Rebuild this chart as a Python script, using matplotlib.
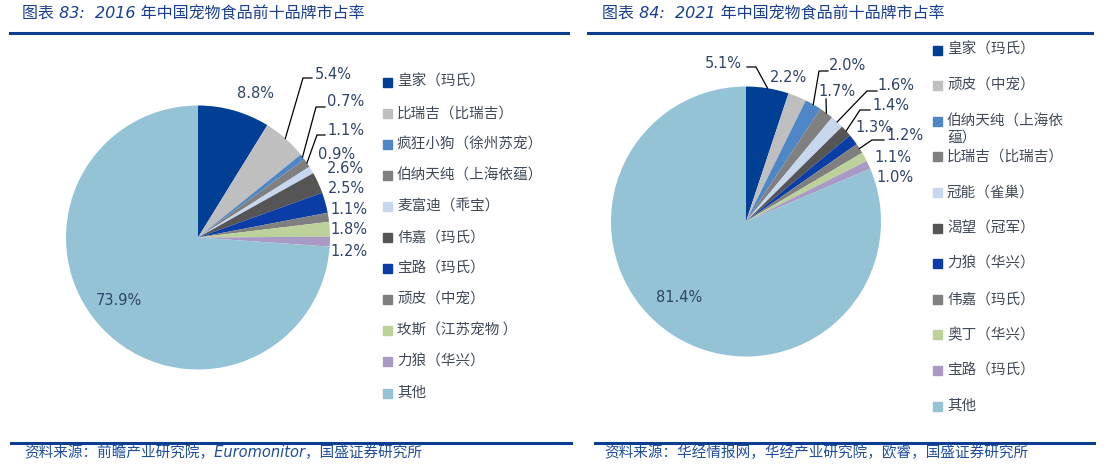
import numpy as np
from matplotlib import pyplot as plt
from matplotlib.lines import Line2D
from matplotlib.patches import Rectangle

plt.rcParams['font.family'] = ['Noto Sans CJK SC', 'DejaVu Sans']

# 2016 data
brands_2016 = ['皇家（玛氏）', '比瑞吉（比瑞吉）', '疯狂小狗（徐州苏宠）', '伯纳天纯（上海依蕴）',
               '麦富迪（乖宝）', '伟嘉（玛氏）', '宝路（玛氏）', '顽皮（中宠）',
               '玫斯（江苏宠物 ）', '力狼（华兴）', '其他']
share_2016 = [8.8, 5.4, 0.7, 1.1, 0.9, 2.6, 2.5, 1.1, 1.8, 1.2, 73.9]

# 2021 data
brands_2021 = ['皇家（玛氏）', '顽皮（中宠）', '伯纳天纯（上海依\n蕴）', '比瑞吉（比瑞吉）',
               '冠能（雀巢）', '渴望（冠军）', '力狼（华兴）', '伟嘉（玛氏）',
               '奥丁（华兴）', '宝路（玛氏）', '其他']
share_2021 = [5.1, 2.2, 2.0, 1.7, 1.6, 1.4, 1.3, 1.2, 1.1, 1.0, 81.4]

colors = ['#003f94', '#bfbfbf', '#4f86c6', '#808080', '#c6d7ee', '#555555',
          '#0a3ea6', '#7f7f7f', '#bcd29a', '#a89ac4', '#93c3d5']

W, H = 1112, 472
fig = plt.figure(figsize=(W / 100, H / 100), dpi=100)

BLUE = '#0b3d91'
LBL = '#2e4468'


def fx(px):
    return px / W


def fy(py):
    return 1 - py / H


def pie_axes(cx, cy, r, half=200):
    ax = fig.add_axes([fx(cx - half), fy(cy + half), 2 * half / W, 2 * half / H])
    ax.patch.set_visible(False)
    return ax


def draw_pie(ax, vals, cx, cy, r, label_px, leaders, half=200):
    wedges, _ = ax.pie(vals, colors=colors, startangle=90, counterclock=False,
                       radius=1, wedgeprops=dict(linewidth=0))
    k = half / r
    ax.set_xlim(-k, k)
    ax.set_ylim(-k, k)
    ax.set_aspect('equal')
    ax.axis('off')

    def p2d(px, py):
        return ((px - cx) / r, (cy - py) / r)

    for i, v in enumerate(vals):
        x, y = p2d(*label_px[i])
        ax.text(x, y, f'{v:.1f}%', ha='left', va='center', fontsize=10.5,
                color=LBL, family='DejaVu Sans')
    # leader lines to wedge middle
    for i, pts in leaders.items():
        w = wedges[i]
        mid = np.deg2rad((w.theta1 + w.theta2) / 2)
        xs = [p2d(*p)[0] for p in pts] + [np.cos(mid)]
        ys = [p2d(*p)[1] for p in pts] + [np.sin(mid)]
        ax.plot(xs, ys, color='black', lw=0.9, clip_on=False)


# left pie
ax1 = pie_axes(198, 237.5, 132)
lbl_2016 = [(237, 93), (315, 74), (327, 101), (327, 130), (318, 154), (327, 168),
            (328, 188), (330, 209), (330, 229), (330, 251), (96, 300)]
lead_2016 = {1: [(312, 78), (303, 78)], 2: [(325, 107), (316, 107)],
             3: [(325, 135), (317, 135)]}
draw_pie(ax1, share_2016, 198, 237.5, 132, lbl_2016, lead_2016)

# right pie
ax2 = pie_axes(746, 221.5, 135)
lbl_2021 = [(705, 63), (770, 77), (829, 66), (818, 92), (877, 85), (872, 105),
            (855, 127), (886, 135), (874, 158), (876, 178), (656, 298)]
lead_2021 = {0: [(747, 67), (756, 67)], 2: [(828, 71), (819, 71)], 3: [(826, 99)],
             4: [(877, 91), (867, 91)], 5: [(870, 110), (860, 110)],
             7: [(884, 140), (872, 140)]}
draw_pie(ax2, share_2021, 746, 221.5, 135, lbl_2021, lead_2021)


# legends
def legend(names, x0, y0, step):
    for i, name in enumerate(names):
        y = y0 + i * step
        fig.add_artist(Rectangle((fx(x0), fy(y + 4.5)), 9 / W, 9 / H,
                                 transform=fig.transFigure, color=colors[i]))
        if '\n' in name:
            fig.text(fx(x0 + 14), fy(y - 7), name, ha='left', va='top',
                     fontsize=10.5, color='#404a5a', linespacing=1.25)
        else:
            fig.text(fx(x0 + 14), fy(y), name, ha='left', va='center',
                     fontsize=10.5, color='#404a5a')


legend(brands_2016, 383, 82, 31.1)
legend(brands_2021, 933, 50, 35.6)

# titles and rules
fig.text(fx(22), fy(14), '图表 83:  2016 年中国宠物食品前十品牌市占率', ha='left', va='center',
         fontsize=11.5, color='#1a3f8f', style='italic',
         family=['DejaVu Sans', 'Noto Sans CJK SC'])
fig.text(fx(602), fy(14), '图表 84:  2021 年中国宠物食品前十品牌市占率', ha='left', va='center',
         fontsize=11.5, color='#1a3f8f', style='italic',
         family=['DejaVu Sans', 'Noto Sans CJK SC'])
for xa, xb, y in [(10, 568, 33), (588, 1092, 33), (11, 571, 443), (595, 1094, 443)]:
    fig.add_artist(Line2D([fx(xa), fx(xb)], [fy(y), fy(y)], color=BLUE, lw=2.2))

fig.text(fx(24), fy(453), '资料来源：前瞻产业研究院，Euromonitor，国盛证券研究所', ha='left',
         va='center', fontsize=10.5, color='#1f4e9c', style='italic',
         family=['DejaVu Sans', 'Noto Sans CJK SC'])
fig.text(fx(604), fy(453), '资料来源：华经情报网，华经产业研究院，欧睿，国盛证券研究所', ha='left',
         va='center', fontsize=10.5, color='#1f4e9c', style='italic',
         family=['DejaVu Sans', 'Noto Sans CJK SC'])

fig.savefig('out.png', dpi=100)
